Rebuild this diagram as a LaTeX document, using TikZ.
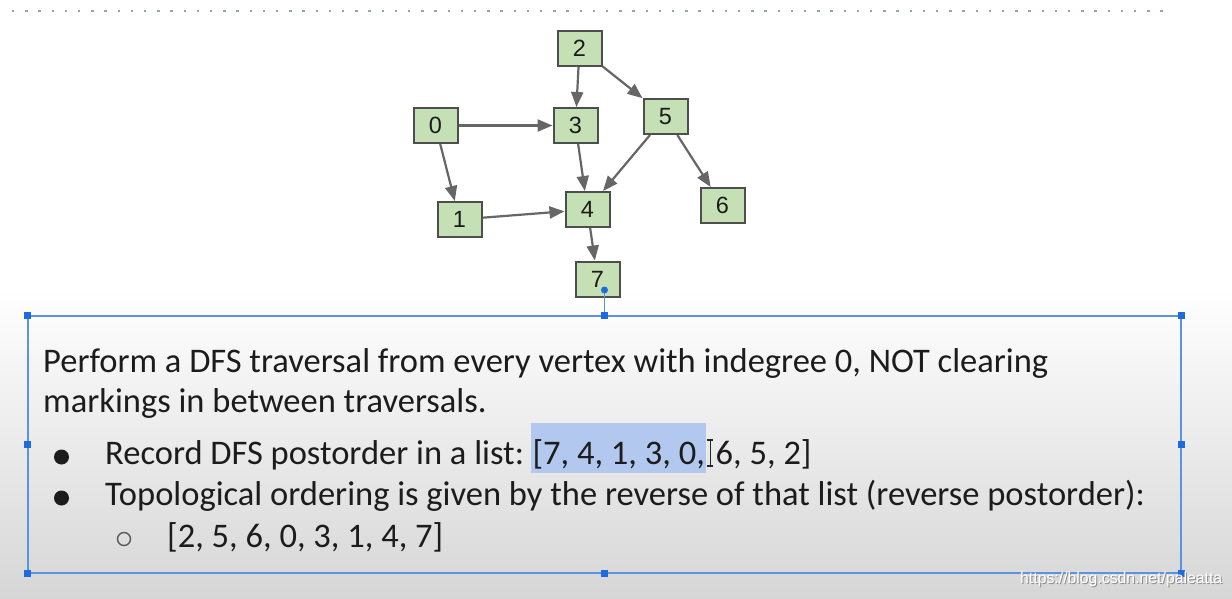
\documentclass[tikz,border=0pt]{standalone}
\usepackage{fontspec}
\setmainfont{Carlito}
\newfontfamily\numfont{Liberation Sans}
\usetikzlibrary{arrows.meta,positioning}
\definecolor{boxgreen}{HTML}{C5E0B4}
\definecolor{boxedge}{HTML}{4E4E4E}
\definecolor{edgegray}{HTML}{666666}
\definecolor{selblue}{HTML}{5B93E0}
\definecolor{handleblue}{HTML}{1F6BDD}
\definecolor{hilite}{HTML}{B3C8EE}
\definecolor{textdark}{HTML}{1C1C1C}
\definecolor{dotgray}{HTML}{8AA4C2}
\begin{document}
\begin{tikzpicture}[x=1pt,y=-1pt,
  vbox/.style={draw=boxedge, fill=boxgreen, line width=2pt, minimum width=44pt,
    minimum height=35pt, inner sep=0pt, text=textdark, font=\numfont\fontsize{23.5}{23.5}\selectfont},
  edge/.style={edgegray, line width=2.2pt, -{Triangle[length=15pt,width=12pt]}},
  txt/.style={anchor=base west, inner sep=0pt, text=textdark, font=\fontsize{34.5}{34.5}\selectfont},
  handle/.style={fill=handleblue, minimum size=7pt, inner sep=0pt}]
\useasboundingbox (0,0) rectangle (1232,598);
% background
\fill[white] (0,0) rectangle (1232,598);
\shade[top color=white, bottom color=black!16] (0,290) rectangle (1232,598);
\draw[dotgray, line width=2.6pt, dash pattern=on 2.4pt off 10.8pt] (12,11) -- (1172,11);

% graph
\node[vbox] (v2) at (579.5,48) {2};
\node[vbox] (v0) at (435.5,125.5) {0};
\node[vbox] (v3) at (575.5,125.5) {3};
\node[vbox] (v5) at (665.5,116.5) {5};
\node[vbox] (v1) at (459.5,219.5) {1};
\node[vbox] (v4) at (587.5,209.5) {4};
\node[vbox] (v6) at (722.5,205.5) {6};
\node[vbox] (v7) at (597.5,279) {7};

\draw[edge] (v0) -- (v3);
\draw[edge] (v0) -- (v1);
\draw[edge] (v2) -- (v3);
\draw[edge] (v2) -- (v5);
\draw[edge] (v3) -- (v4);
\draw[edge] (v1) -- (v4);
\draw[edge] (v5) -- (v4);
\draw[edge] (v5) -- (v6);
\draw[edge] (v4) -- (v7);

% selected text box
\node[draw=selblue, line width=1.5pt, minimum width=1153pt, minimum height=257pt,
  inner sep=0pt] (frame) at (604.5,444.5) {};
\coordinate (rot) at (604.5,290);
\draw[selblue, line width=1.2pt] (frame.north) -- (rot);
\fill[handleblue] (rot) circle (3.5);
\foreach \a in {north west,north,north east,east,south east,south,south west,west}
  \node[handle] at (frame.\a) {};

% text
\node[txt] (t1) at (43,372) {Perform a DFS traversal from every vertex with indegree 0, NOT clearing};
\node[txt] (t2) at (43,412) {markings in between traversals.};
\node[txt] (b1) at (105,464) {Record DFS postorder in a list:};
\node[txt, fill=hilite, inner xsep=1.5pt, text height=41pt, text depth=9pt,
  anchor=base west] (sel) at ([xshift=6.5pt]b1.base east) {[7, 4, 1, 3, 0,};
\node[txt] (rest) at ([xshift=9pt]sel.base east) {6, 5, 2]};
\node[txt] (b2) at (105,505) {Topological ordering is given by the reverse of that list (reverse postorder):};
\node[txt] (s1) at (167,547) {[2, 5, 6, 0, 3, 1, 4, 7]};

% bullets
\fill[textdark] (61.5,457) circle (7.5);
\fill[textdark] (61.5,498) circle (7.5);
\draw[black!65, line width=1.4pt] (124,539) circle (6.5);

% text cursor
\coordinate (cur) at ([xshift=4pt]sel.base east);
\draw[black!85, line width=1.1pt] ([yshift=-2pt]cur) -- ([yshift=24pt]cur)
  ([shift={(-3pt,-2pt)}]cur) -- ([shift={(3pt,-2pt)}]cur)
  ([shift={(-3pt,24pt)}]cur) -- ([shift={(3pt,24pt)}]cur);

% watermark
\node[anchor=base west, inner sep=0pt, text=black!45, font=\numfont\fontsize{15.8}{15.8}\selectfont]
  at (1021,584) {https://blog.csdn.net/paleatta};
\node[anchor=base west, inner sep=0pt, text=white, font=\numfont\fontsize{15.8}{15.8}\selectfont]
  (mark) at (1020,583) {https://blog.csdn.net/paleatta};
\end{tikzpicture}
\end{document}
